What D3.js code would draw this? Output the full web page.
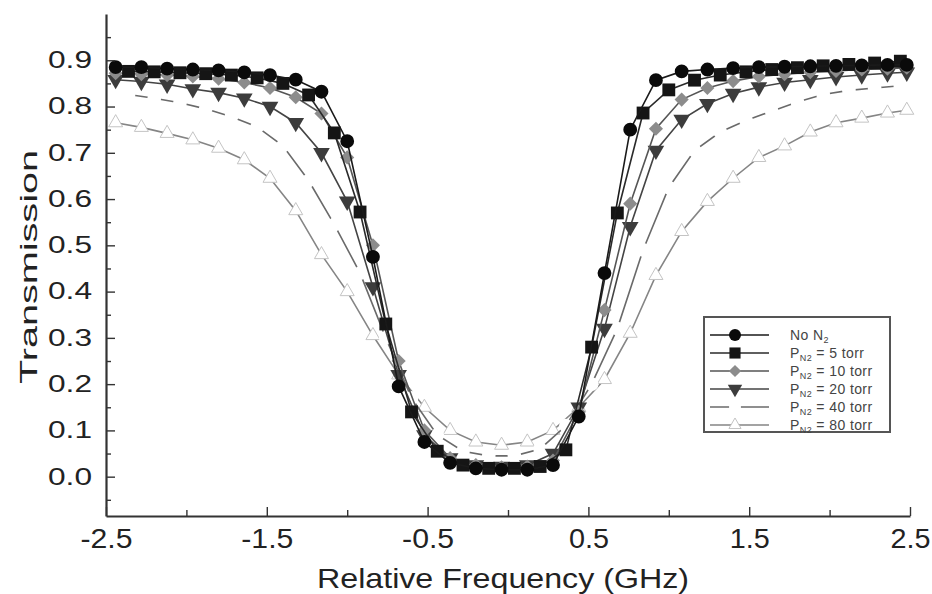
<!DOCTYPE html>
<html lang="en">
<head>
<meta charset="UTF-8">
<title>Transmission</title>
<script src="https://d3js.org/d3.v7.min.js"></script>
<style>
  body { margin: 0; background: #fff; }
  text { font-family: "Liberation Sans", Arial, sans-serif; }
</style>
</head>
<body>
<script>
// marker grids (GHz)
const freqA = [-2.44, -2.28, -2.12, -1.96, -1.80, -1.64, -1.48, -1.32, -1.16, -1.00, -0.84, -0.68, -0.52, -0.36, -0.20, -0.04,
               0.12, 0.28, 0.44, 0.60, 0.76, 0.92, 1.08, 1.24, 1.40, 1.56, 1.72, 1.88, 2.04, 2.20, 2.36, 2.48];
const freqB = [-2.36, -2.20, -2.04, -1.88, -1.72, -1.56, -1.40, -1.24, -1.08, -0.92, -0.76, -0.60, -0.44, -0.28, -0.12,
               0.04, 0.20, 0.36, 0.52, 0.68, 0.84, 1.00, 1.16, 1.32, 1.48, 1.64, 1.80, 1.96, 2.12, 2.28, 2.44];

const noN2 = [0.885, 0.885, 0.882, 0.880, 0.878, 0.874, 0.868, 0.858, 0.832, 0.725, 0.475, 0.195, 0.075, 0.030, 0.018, 0.015,
              0.015, 0.025, 0.130, 0.440, 0.750, 0.857, 0.876, 0.880, 0.883, 0.885, 0.886, 0.887, 0.888, 0.889, 0.890, 0.890];
const p5   = [0.876, 0.875, 0.873, 0.871, 0.868, 0.862, 0.850, 0.825, 0.743, 0.572, 0.330, 0.140, 0.055, 0.025, 0.018,
              0.018, 0.022, 0.058, 0.280, 0.570, 0.786, 0.836, 0.857, 0.868, 0.875, 0.880, 0.884, 0.888, 0.891, 0.894, 0.898];
const p10  = [0.872, 0.870, 0.868, 0.865, 0.860, 0.852, 0.840, 0.820, 0.785, 0.690, 0.500, 0.250, 0.100, 0.040, 0.025, 0.020,
              0.022, 0.035, 0.140, 0.360, 0.590, 0.752, 0.815, 0.840, 0.855, 0.865, 0.870, 0.874, 0.877, 0.880, 0.882, 0.884];
const p20  = [0.858, 0.854, 0.848, 0.838, 0.830, 0.818, 0.800, 0.765, 0.700, 0.595, 0.410, 0.220, 0.090, 0.040, 0.025, 0.022,
              0.025, 0.050, 0.150, 0.320, 0.540, 0.705, 0.772, 0.806, 0.828, 0.842, 0.852, 0.858, 0.864, 0.868, 0.872, 0.874];
const p40  = [0.826, 0.818, 0.808, 0.795, 0.778, 0.756, 0.715, 0.640, 0.545, 0.440, 0.300, 0.170, 0.090, 0.055, 0.045,
              0.045, 0.060, 0.110, 0.200, 0.320, 0.490, 0.625, 0.705, 0.745, 0.770, 0.790, 0.810, 0.826, 0.835, 0.840, 0.845];
const p80  = [0.765, 0.755, 0.742, 0.728, 0.710, 0.685, 0.645, 0.575, 0.480, 0.400, 0.305, 0.220, 0.150, 0.100, 0.075, 0.068,
              0.075, 0.100, 0.150, 0.210, 0.310, 0.435, 0.530, 0.595, 0.645, 0.690, 0.715, 0.745, 0.765, 0.775, 0.786, 0.792];

const legendMain = ["No N", "P", "P", "P", "P", "P"];
const legendSub  = ["2", "N2", "N2", "N2", "N2", "N2"];
const legendRest = ["", " = 5 torr", " = 10 torr", " = 20 torr", " = 40 torr", " = 80 torr"];

const xTickVals = [-2.5, -1.5, -0.5, 0.5, 1.5, 2.5];
const xMinorVals = [-2, -1, 0, 1, 2];
const yTickVals = [0, 0.1, 0.2, 0.3, 0.4, 0.5, 0.6, 0.7, 0.8, 0.9];
const yMinorVals = [-0.05, 0.05, 0.15, 0.25, 0.35, 0.45, 0.55, 0.65, 0.75, 0.85, 0.95];

const W = 932, H = 594;
const svg = d3.select("body").append("svg").attr("width", W).attr("height", H);

const x = d3.scaleLinear().domain([-2.5, 2.5]).range([106, 910]);
const y = d3.scaleLinear().domain([-0.085, 1.0]).range([516, 14]);

// widest first so the narrow black ones sit on top
const series = [
  {freq: freqA, vals: p80,  line: "#858585", shape: "triUp",  fill: "#fff",    stroke: "#c4c4c4", size: 85},
  {freq: freqB, vals: p40,  line: "#6a6a6a", shape: "circle", fill: "#fff",    stroke: "none",    size: 150},
  {freq: freqA, vals: p20,  line: "#444",    shape: "triDown", fill: "#3c3c3c", stroke: "none",   size: 120},
  {freq: freqA, vals: p10,  line: "#555",    shape: "diamond", fill: "#8c8c8c", stroke: "none",   size: 100},
  {freq: freqB, vals: p5,   line: "#2a2a2a", shape: "square", fill: "#151515", stroke: "none",    size: 165},
  {freq: freqA, vals: noN2, line: "#1a1a1a", shape: "circle", fill: "#0a0a0a", stroke: "none",    size: 150}
];
const legendOrder = [5, 4, 3, 2, 1, 0];

function symbolPath(shape, size) {
  if (shape === "square" || shape === "diamond") return d3.symbol(d3.symbolSquare, size)();
  if (shape === "triUp" || shape === "triDown") return d3.symbol(d3.symbolTriangle, size)();
  return d3.symbol(d3.symbolCircle, size)();
}
function symbolRot(shape) {
  if (shape === "diamond") return " rotate(45)";
  if (shape === "triDown") return " rotate(180)";
  return "";
}

const line = d3.line().x(d => x(d[0])).y(d => y(d[1]));

series.forEach(s => {
  const pts = s.freq.map((f, i) => [f, s.vals[i]]);
  svg.append("path")
    .datum(pts)
    .attr("d", line)
    .attr("fill", "none")
    .attr("stroke", s.line)
    .attr("stroke-width", 1.6);
  svg.append("g").selectAll("path")
    .data(pts)
    .join("path")
    .attr("d", symbolPath(s.shape, s.size))
    .attr("transform", d => "translate(" + x(d[0]) + "," + y(d[1]) + ")" + symbolRot(s.shape))
    .attr("fill", s.fill)
    .attr("stroke", s.stroke)
    .attr("stroke-width", 1);
});

// axes, ticks pointing inwards; plain hyphen for negatives
const fmt = d => d3.format(".1f")(d).replace("\u2212", "-");
const axisColor = "#333";
const xAxis = svg.append("g").attr("transform", "translate(0,516)")
  .call(d3.axisBottom(x).tickValues(xTickVals).tickSizeInner(-9).tickSizeOuter(0).tickPadding(12)
        .tickFormat(fmt));
svg.append("g").attr("transform", "translate(0,516)")
  .call(d3.axisBottom(x).tickValues(xMinorVals).tickSizeInner(-6).tickSizeOuter(0).tickFormat(""))
  .select(".domain").remove();
const yAxis = svg.append("g").attr("transform", "translate(106,0)")
  .call(d3.axisLeft(y).tickValues(yTickVals).tickSizeInner(-9).tickSizeOuter(0).tickPadding(14)
        .tickFormat(fmt));
svg.append("g").attr("transform", "translate(106,0)")
  .call(d3.axisLeft(y).tickValues(yMinorVals).tickSizeInner(-5).tickSizeOuter(0).tickFormat(""))
  .select(".domain").remove();

svg.selectAll(".domain").attr("stroke", axisColor).attr("stroke-width", 2.2);
svg.selectAll(".tick line").attr("stroke", axisColor).attr("stroke-width", 1.4);
xAxis.selectAll("text").attr("font-size", 28).attr("fill", "#222")
  .attr("textLength", d => d < 0 ? 52 : 40).attr("lengthAdjust", "spacingAndGlyphs");
yAxis.selectAll("text").attr("font-size", 23).attr("fill", "#222")
  .attr("textLength", 44).attr("lengthAdjust", "spacingAndGlyphs");

svg.append("text")
  .attr("x", 503).attr("y", 588)
  .attr("text-anchor", "middle")
  .attr("font-size", 28).attr("fill", "#222")
  .attr("textLength", 372).attr("lengthAdjust", "spacingAndGlyphs")
  .text("Relative Frequency (GHz)");

svg.append("text")
  .attr("transform", "translate(37,267) rotate(-90)")
  .attr("text-anchor", "middle")
  .attr("font-size", 24).attr("fill", "#222")
  .attr("textLength", 234).attr("lengthAdjust", "spacingAndGlyphs")
  .text("Transmission");

// legend
const lg = svg.append("g");
lg.append("rect")
  .attr("x", 704).attr("y", 317).attr("width", 186).attr("height", 115)
  .attr("fill", "#fff").attr("stroke", "#555").attr("stroke-width", 2);
const rowY = d3.scalePoint().domain(d3.range(6)).range([335, 425]);
legendOrder.forEach((si, r) => {
  const s = series[si];
  const yy = rowY(r);
  lg.append("line")
    .attr("x1", 710).attr("x2", 769).attr("y1", yy).attr("y2", yy)
    .attr("stroke", s.line).attr("stroke-width", 1.6);
  lg.append("path")
    .attr("d", symbolPath(s.shape, s.size * 0.75))
    .attr("transform", "translate(735," + yy + ")" + symbolRot(s.shape))
    .attr("fill", s.fill).attr("stroke", s.stroke).attr("stroke-width", 1);
  const t = lg.append("text")
    .attr("x", 790).attr("y", yy + 5)
    .attr("font-size", 14).attr("fill", "#444").attr("letter-spacing", 0.4);
  t.append("tspan").text(legendMain[r]);
  t.append("tspan").attr("font-size", 9).attr("dy", 3).text(legendSub[r]);
  t.append("tspan").attr("dy", -3).text(legendRest[r]);
});
</script>
</body>
</html>
